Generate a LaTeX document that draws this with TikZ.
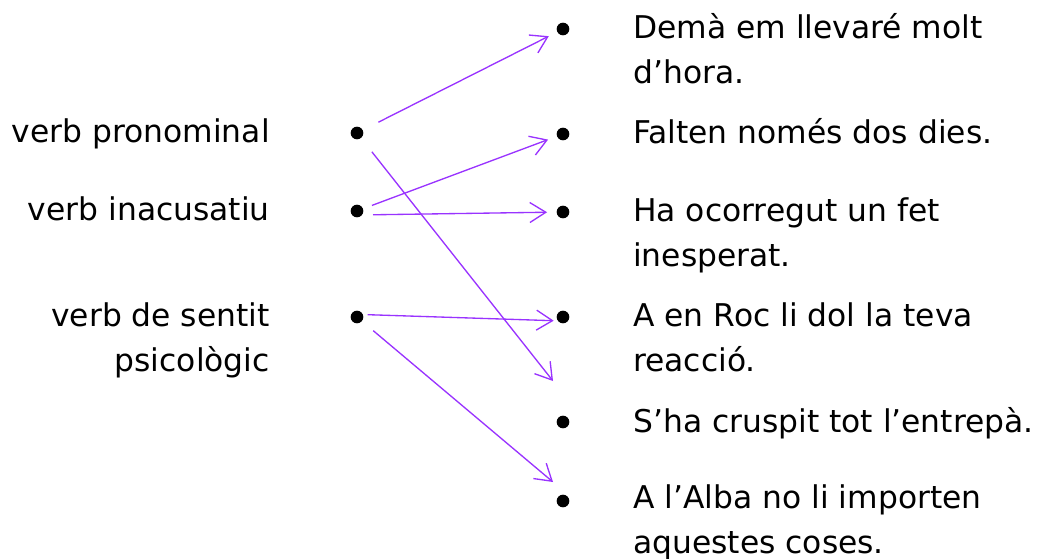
\documentclass[tikz,border=0pt]{standalone}
\usepackage{fontspec}
\setmainfont{DejaVu Sans}
\usetikzlibrary{arrows.meta}
\definecolor{lilac}{RGB}{153,51,255}
\tikzset{
  bulletdot/.style={circle,fill=black,inner sep=0pt,minimum size=9.5pt},
  txt/.style={inner sep=0pt,font=\fontsize{23.5}{33.75}\selectfont},
  link/.style={draw=lilac,line width=1pt,-{Straight Barb[length=12pt,width=15pt]}},
}
\begin{document}
\begin{tikzpicture}[x=0.75pt,y=0.75pt,yscale=-1]
\useasboundingbox (0,0) rectangle (1044,558);

% Left column (base = last line)
\node (lpron) [txt,anchor=base east] at (270,142) {verb pronominal};
\node (linac) [txt,anchor=base east] at (270,220) {verb inacusatiu};
\node (lsent) [txt,anchor=base east,align=right] at (270,371) {verb de sentit\\psicològic};
\node (bpron) [bulletdot] at (357,133) {};
\node (binac) [bulletdot] at (357,211) {};
\node (bsent) [bulletdot] at (357,317) {};

% Right column
\node (bdema) [bulletdot] at (563,29) {};
\node (bfalt) [bulletdot] at (563,134) {};
\node (bocor) [bulletdot] at (563,212) {};
\node (broc) [bulletdot] at (563,317) {};
\node (bcrus) [bulletdot] at (563,422) {};
\node (balba) [bulletdot] at (563,501) {};
\node (tdema) [txt,anchor=base west,align=left] at (633,83) {Demà em llevaré molt\\d’hora.};
\node (tfalt) [txt,anchor=base west] at (633,143) {Falten només dos dies.};
\node (tocor) [txt,anchor=base west,align=left] at (633,266) {Ha ocorregut un fet\\inesperat.};
\node (troc) [txt,anchor=base west,align=left] at (633,371) {A en Roc li dol la teva\\reacció.};
\node (tcrus) [txt,anchor=base west] at (633,432) {S’ha cruspit tot l’entrepà.};
\node (talba) [txt,anchor=base west,align=left] at (633,553) {A l’Alba no li importen\\aquestes coses.};

% Free arrow ends
\coordinate (epron) at (553,381);
\coordinate (esent) at (553,482);

% Arrows
\draw [link,shorten <=13pt,shorten >=7pt] (bpron) -- (bdema);
\draw [link,shorten <=13pt] (bpron) -- (epron);
\draw [link,shorten <=7pt,shorten >=7pt] (binac) -- (bfalt);
\draw [link,shorten <=12pt,shorten >=7pt] ([yshift=3pt]binac.center) -- (bocor);
\draw [link,shorten <=8pt,shorten >=7pt] ([yshift=-2pt]bsent.center) -- ([yshift=3pt]broc.center);
\draw [link,shorten <=11pt] (bsent) -- (esent);

\end{tikzpicture}
\end{document}
